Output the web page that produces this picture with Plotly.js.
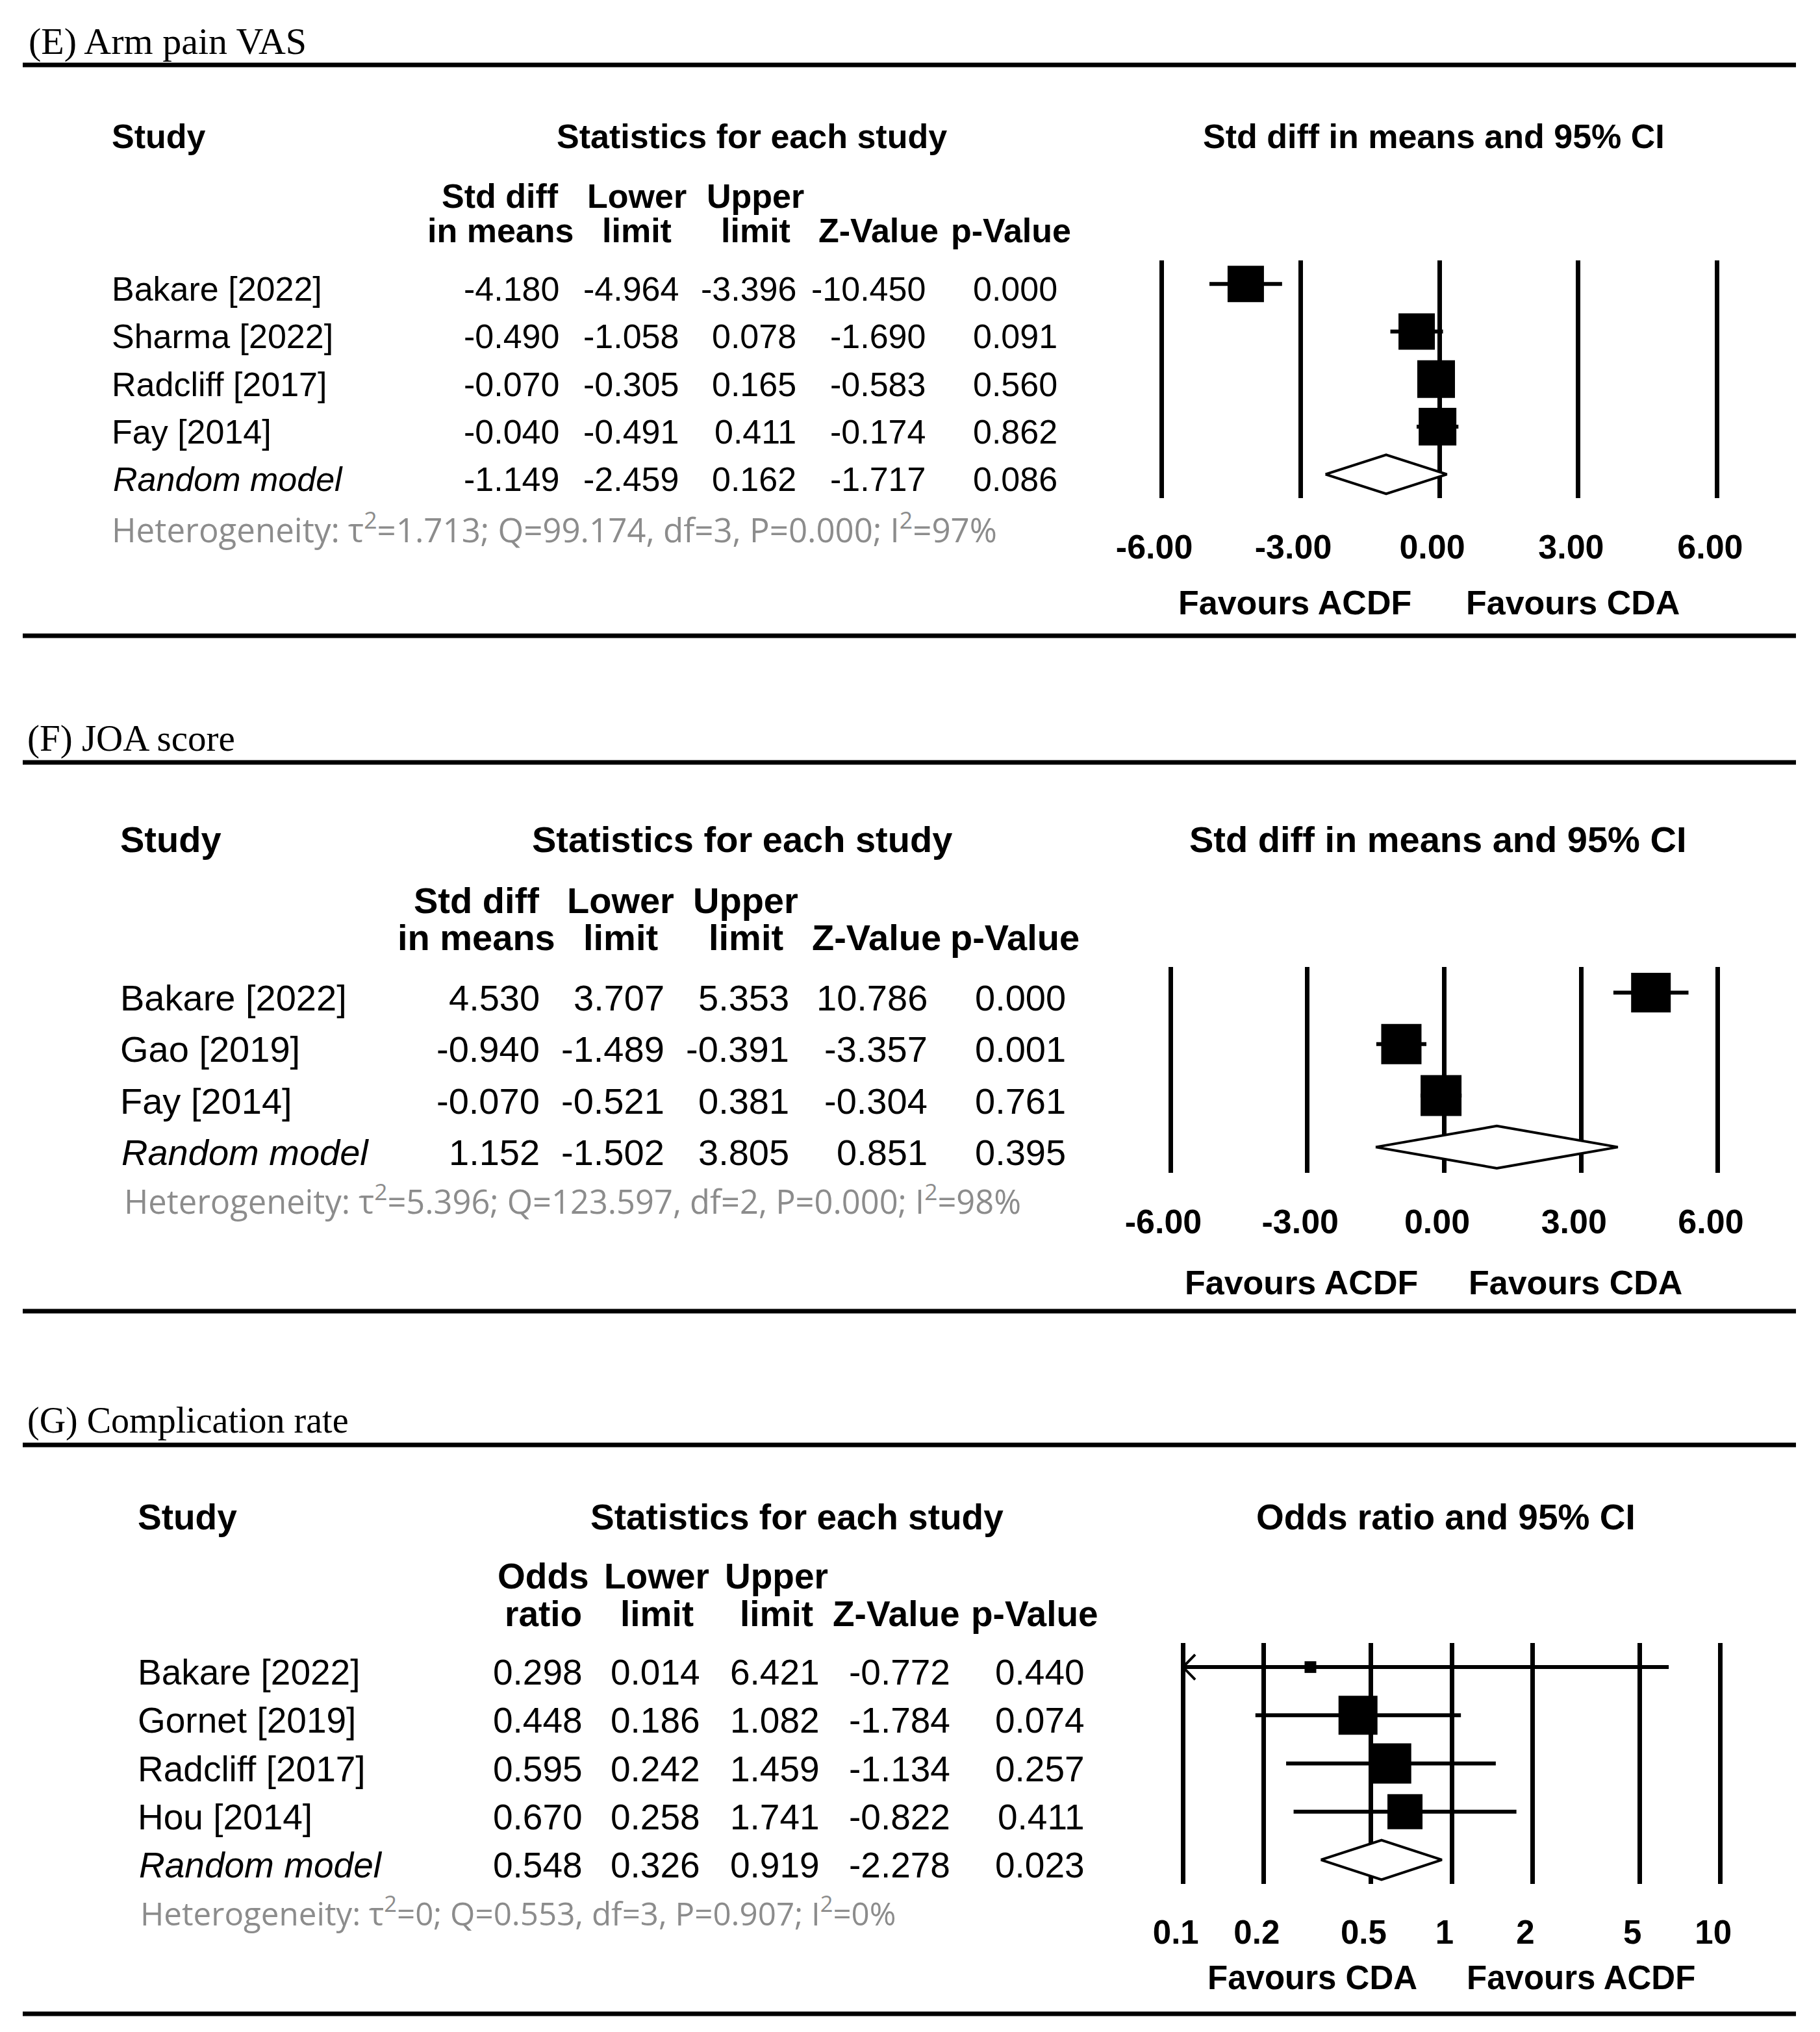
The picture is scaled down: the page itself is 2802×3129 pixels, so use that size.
<!DOCTYPE html>
<html><head><meta charset="utf-8">
<script src="https://cdn.plot.ly/plotly-3.0.1.min.js"></script>
<style>html,body{margin:0;padding:0;background:#fff}</style>
</head><body><div id="chart" style="width:2802px;height:3129px"></div>
<script>
// ---------------- Panel E: Arm pain VAS ----------------
const studiesE = ["Bakare [2022]","Sharma [2022]","Radcliff [2017]","Fay [2014]"];
const effectE  = [-4.180,-0.490,-0.070,-0.040];
const lowerE   = [-4.964,-1.058,-0.305,-0.491];
const upperE   = [-3.396, 0.078, 0.165, 0.411];
const zValueE  = [-10.450,-1.690,-0.583,-0.174];
const pValueE  = [0.000, 0.091, 0.560, 0.862];
const randomE  = [-1.149,-2.459, 0.162,-1.717, 0.086]; // effect, lower, upper, Z, p
const hetE     = ["1.713","99.174","3","0.000","97"];   // tau2, Q, df, P, I2
const ticksE   = [-6,-3,0,3,6];

// ---------------- Panel F: JOA score ----------------
const studiesF = ["Bakare [2022]","Gao [2019]","Fay [2014]"];
const effectF  = [4.530,-0.940,-0.070];
const lowerF   = [3.707,-1.489,-0.521];
const upperF   = [5.353,-0.391, 0.381];
const zValueF  = [10.786,-3.357,-0.304];
const pValueF  = [0.000, 0.001, 0.761];
const randomF  = [1.152,-1.502, 3.805, 0.851, 0.395];
const hetF     = ["5.396","123.597","2","0.000","98"];
const ticksF   = [-6,-3,0,3,6];

// ---------------- Panel G: Complication rate ----------------
const studiesG = ["Bakare [2022]","Gornet [2019]","Radcliff [2017]","Hou [2014]"];
const effectG  = [0.298,0.448,0.595,0.670];
const lowerG   = [0.014,0.186,0.242,0.258];
const upperG   = [6.421,1.082,1.459,1.741];
const zValueG  = [-0.772,-1.784,-1.134,-0.822];
const pValueG  = [0.440,0.074,0.257,0.411];
const randomG  = [0.548,0.326,0.919,-2.278,0.023];
const hetG     = ["0","0.553","3","0.907","0"];
const ticksG   = [0.1,0.2,0.5,1,2,5,10];
const tickTextG = ["0.1","0.2","0.5","1","2","5","10"];

const W = 2802, H = 3129;
const px = v => v / W;
const py = v => 1 - v / H;
const SANS  = "Liberation Sans, Arial, Helvetica, sans-serif";
const SERIF = "Liberation Serif, Times New Roman, serif";
const HETF  = "Open Sans, Carlito, Calibri, sans-serif";

const panels = [
  {title:"(E) Arm pain VAS", studies:studiesE, eff:effectE, lo:lowerE, hi:upperE, z:zValueE, p:pValueE,
   rnd:randomE, het:hetE, head1:["Std diff","Lower","Upper","",""], head2:["in means","limit","limit","Z-Value","p-Value"],
   fTitle:"Std diff in means and 95% CI", favL:"Favours ACDF", favR:"Favours CDA",
   ticks:ticksE, tickText:ticksE.map(v=>v.toFixed(2)), log:false, xlim:[-6,6], range:[-6.1,6.1],
   fs:52, tfs:58, hfs:51, ffs:52, titleX:43, titleY:64, topLine:100, botLine:979, headY:210, studyX:171, statX:1157,
   sub1Y:302, sub2Y:355, colC:[770,981,1163,1352,1556], colR:[862,1046,1227,1426,1629],
   hetX:171, hetY:813, fx:[1781,2651], fy:[400.5,767], fTitleX:2207, favY:928, favX:[1993,2421],
   sizes:[56,56,58,58]},
  {title:"(F) JOA score", studies:studiesF, eff:effectF, lo:lowerF, hi:upperF, z:zValueF, p:pValueF,
   rnd:randomF, het:hetF, head1:["Std diff","Lower","Upper","",""], head2:["in means","limit","limit","Z-Value","p-Value"],
   fTitle:"Std diff in means and 95% CI", favL:"Favours ACDF", favR:"Favours CDA",
   ticks:ticksF, tickText:ticksF.map(v=>v.toFixed(2)), log:false, xlim:[-6,6], range:[-6.1,6.1],
   fs:56, tfs:57, hfs:50.6, ffs:52, titleX:41, titleY:1137, topLine:1174, botLine:2019, headY:1292, studyX:184, statX:1142,
   sub1Y:1386, sub2Y:1443, colC:[733,955,1148,1349,1562], colR:[832,1024,1216,1429,1642],
   hetX:190, hetY:1847, fx:[1795,2652], fy:[1489,1806], fTitleX:2213, favY:1975, favX:[2004,2425],
   sizes:[61,62,63]},
  {title:"(G) Complication rate", studies:studiesG, eff:effectG, lo:lowerG, hi:upperG, z:zValueG, p:pValueG,
   rnd:randomG, het:hetG, head1:["Odds","Lower","Upper","",""], head2:["ratio","limit","limit","Z-Value","p-Value"],
   fTitle:"Odds ratio and 95% CI", favL:"Favours CDA", favR:"Favours ACDF",
   ticks:ticksG, tickText:tickTextG, log:true, xlim:[0.1,10], range:[-1.02,1.02],
   fs:55, tfs:56, hfs:49.3, ffs:51, titleX:41, titleY:2187, topLine:2225, botLine:3101, headY:2336, studyX:211, statX:1227,
   sub1Y:2427, sub2Y:2485, colC:[836,1011,1195,1380,1593], colR:[898,1079,1263,1464,1671],
   hetX:215, hetY:2943, fx:[1813,2657], fy:[2530,2901], fTitleX:2226, favY:3045, favX:[2020,2434],
   sizes:[18,60,62,54]}
];

const data = [];
const layout = {width:W, height:H, margin:{l:0,r:0,t:0,b:0,pad:0}, paper_bgcolor:'#fff',
  plot_bgcolor:'rgba(0,0,0,0)', showlegend:false, annotations:[], shapes:[], hovermode:false};

function ann(text, x, y, o) {
  const base = {text:text, x:x, y:y, xref:'paper', yref:'paper', showarrow:false,
    xanchor:'left', yanchor:'middle', borderpad:0,
    font:{family:SANS, size:52, color:'#000'}};
  layout.annotations.push(Object.assign(base, o || {}));
}

panels.forEach((P, k0) => {
  const sfx = k0 === 0 ? '' : String(k0 + 1);
  const xa = 'x' + sfx, ya = 'y' + sfx;
  const n = P.studies.length;
  const rows = P.studies.map((_, i) => i);
  const bold = {family:SANS, size:P.fs, color:'#000', weight:700};
  const reg  = {family:SANS, size:P.fs, color:'#000'};
  const fbold = {family:SANS, size:P.ffs, color:'#000', weight:700};

  layout['xaxis' + sfx] = {domain:[px(P.fx[0]), px(P.fx[1])], type:P.log ? 'log' : 'linear',
    range:P.range, anchor:ya, tickmode:'array', tickvals:P.ticks, ticktext:P.tickText,
    showgrid:true, gridcolor:'#000', gridwidth:7, zeroline:false, showline:false, ticks:'',
    tickfont:{family:SANS, size:P.ffs, color:'#000', weight:700},
    ticklabelstandoff:40, ticklabelshift:-11, fixedrange:true};
  layout['yaxis' + sfx] = {domain:[py(P.fy[1]), py(P.fy[0])], range:[n + 0.5, -0.5],
    anchor:xa, showgrid:false, zeroline:false, showline:false, showticklabels:false, ticks:'', fixedrange:true};

  // confidence intervals (clipped to the drawn scale)
  const cx = [], cy = [];
  P.lo.forEach((l, i) => {
    cx.push(Math.max(l, P.xlim[0]), Math.min(P.hi[i], P.xlim[1]), null);
    cy.push(i, i, null);
  });
  data.push({type:'scatter', mode:'lines', x:cx, y:cy, xaxis:xa, yaxis:ya,
    line:{color:'#000', width:6}, hoverinfo:'skip'});
  // arrow heads where the interval runs off the scale
  const ax = [], ay = [];
  P.lo.forEach((l, i) => {
    if (l < P.xlim[0]) {
      const m = P.xlim[0];
      const off = P.log ? m * 1.11 : m + 0.27;
      ax.push(off, m, off, null); ay.push(i - 0.26, i, i + 0.26, null);
    }
  });
  if (ax.length) data.push({type:'scatter', mode:'lines', x:ax, y:ay, xaxis:xa, yaxis:ya,
    line:{color:'#000', width:4}, hoverinfo:'skip'});
  // study squares
  data.push({type:'scatter', mode:'markers', x:P.eff, y:rows, xaxis:xa, yaxis:ya,
    marker:{symbol:'square', size:P.sizes, color:'#000', opacity:1, line:{width:0}}, hoverinfo:'skip'});
  // pooled diamond
  const r = n, d = 0.41, R = P.rnd;
  data.push({type:'scatter', mode:'lines', x:[R[1], R[0], R[2], R[0], R[1]], y:[r, r - d, r, r + d, r],
    fill:'toself', fillcolor:'#fff', line:{color:'#000', width:4}, xaxis:xa, yaxis:ya, hoverinfo:'skip'});

  // separators
  [P.topLine, P.botLine].forEach(yy => layout.shapes.push({type:'line', xref:'paper', yref:'paper',
    x0:px(35), x1:px(2765), y0:py(yy), y1:py(yy), line:{color:'#000', width:7}}));

  // titles and headers
  ann(P.title, px(P.titleX), py(P.titleY), {font:{family:SERIF, size:P.tfs, color:'#000'}});
  ann('Study', px(P.studyX), py(P.headY), {font:bold});
  ann('Statistics for each study', px(P.statX), py(P.headY), {xanchor:'center', font:bold});
  ann(P.fTitle, px(P.fTitleX), py(P.headY), {xanchor:'center', font:bold});
  P.head1.forEach((t, c) => { if (t) ann(t, px(P.colC[c]), py(P.sub1Y), {xanchor:'center', yanchor:'middle', font:bold}); });
  P.head2.forEach((t, c) => ann(t, px(P.colC[c]), py(P.sub2Y), {xanchor:'center', font:bold}));

  // table rows
  P.studies.forEach((s, i) => {
    ann(s, px(P.studyX), i, {yref:ya, yshift:-8, font:reg});
    [P.eff[i], P.lo[i], P.hi[i], P.z[i], P.p[i]].forEach((v, c) =>
      ann(v.toFixed(3), px(P.colR[c]), i, {yref:ya, yshift:-8, xanchor:'right', font:reg}));
  });
  ann('<i>Random model</i>', px(P.studyX + 2), n, {yref:ya, yshift:-8, font:reg});
  R.forEach((v, c) => ann(v.toFixed(3), px(P.colR[c]), n, {yref:ya, yshift:-8, xanchor:'right', font:reg}));
  const h = P.het;
  ann('Heterogeneity: τ<sup>2</sup>=' + h[0] + '; Q=' + h[1] + ', df=' + h[2] + ', P=' + h[3] + '; I<sup>2</sup>=' + h[4] + '%',
      px(P.hetX), py(P.hetY), {font:{family:HETF, size:P.hfs, color:'#8c8c8c'}});

  // favours labels
  ann(P.favL, px(P.favX[0]), py(P.favY), {xanchor:'center', font:fbold});
  ann(P.favR, px(P.favX[1]), py(P.favY), {xanchor:'center', font:fbold});
});

Plotly.newPlot('chart', data, layout, {staticPlot:true, displayModeBar:false});
</script>
</body></html>
